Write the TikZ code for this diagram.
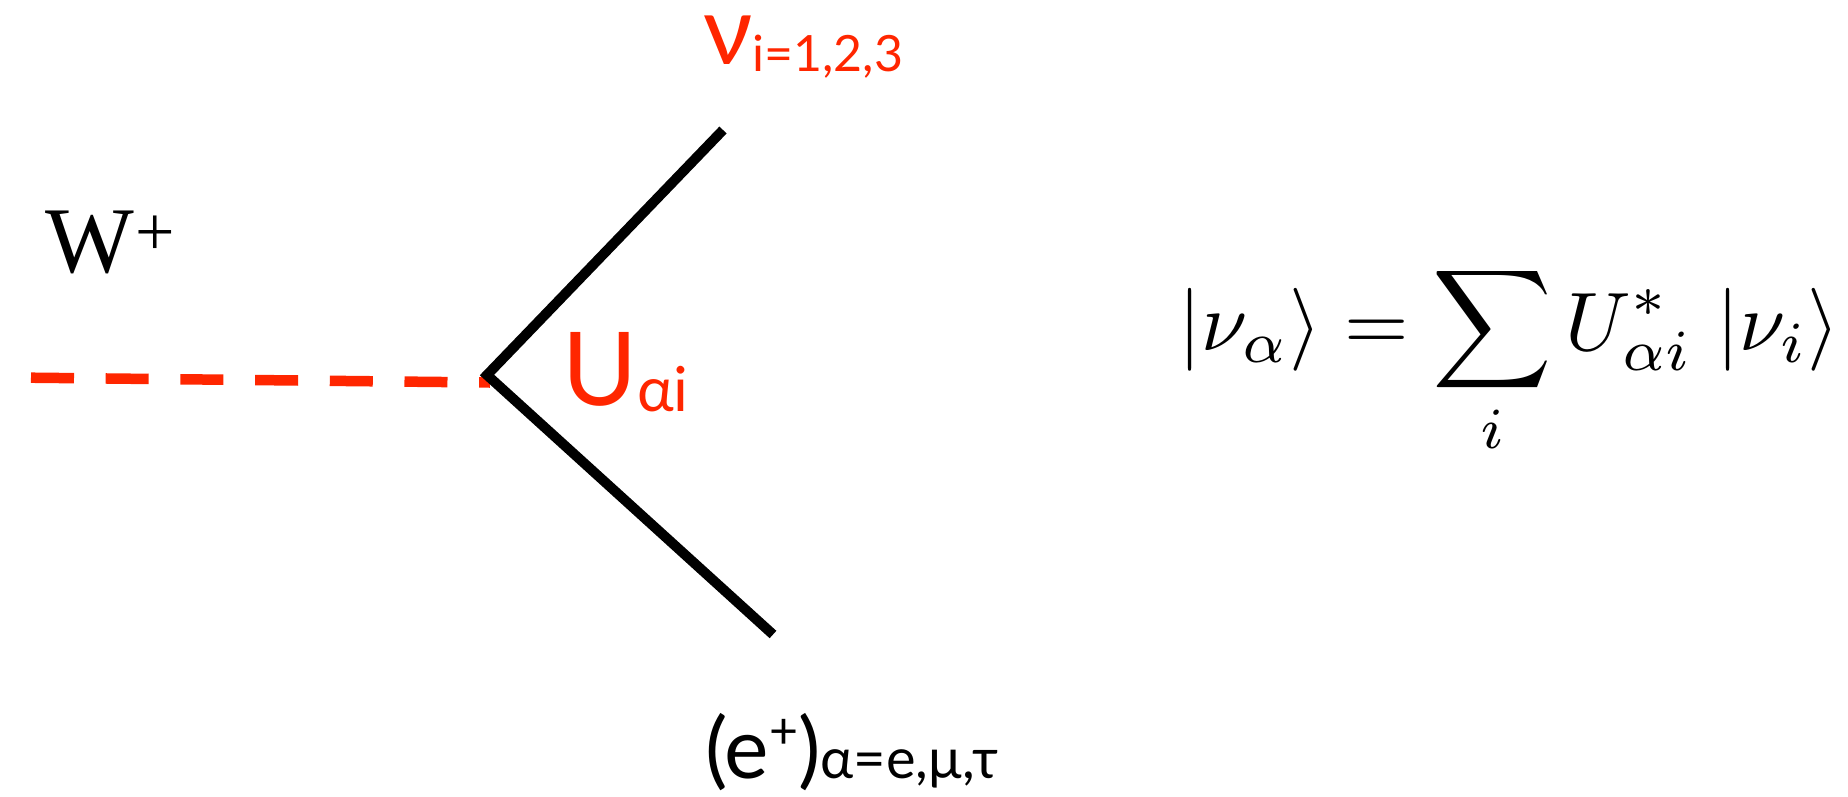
\documentclass[tikz,border=0pt]{standalone}
\usepackage{fontspec}
\usepackage{graphicx}
\newfontfamily\gill{Lato}
\newfontfamily\tnr{Liberation Serif}
\definecolor{kred}{RGB}{255,38,0}
\tikzset{
  lbl/.style={inner sep=0pt, outer sep=0pt, anchor=base west},
  fermion/.style={line width=10pt, black, line join=miter},
  boson/.style={line width=10.5pt, kred, dash pattern=on 43pt off 31.7pt}
}
\begin{document}
\begin{tikzpicture}[x=1pt,y=-1pt]
\path[use as bounding box] (0,0) rectangle (1848,796);
\coordinate (w) at (31,377.7);
\coordinate (v) at (487,375);
\coordinate (wv) at (490,382.5);
\coordinate (nu) at (723,130);
\coordinate (ep) at (773,634.5);
\draw[boson] (w) -- (wv);
\draw[fermion] (nu) -- (v) -- (ep);
\node[lbl] (W) at (45,272) {\tnr\fontsize{94}{94}\selectfont W\kern2pt\raisebox{17pt}{\fontsize{70}{70}\selectfont +}};
\node[lbl, text=kred] (nulbl) at (703,64) {\gill\fontsize{96}{96}\selectfont ν\raisebox{-7pt}{\fontsize{50}{50}\selectfont i=1,2,3}};
\node[lbl, text=kred] (U) at (562,405) {\gill\fontsize{102}{102}\selectfont U\raisebox{-6pt}{\fontsize{62}{62}\selectfont αi}};
\node[lbl] (elbl) at (705,778) {\gill\fontsize{84}{84}\selectfont (e\raisebox{30pt}{\fontsize{50}{50}\selectfont +})\fontsize{56}{56}\selectfont α=e,μ,τ};
\node[inner sep=0pt, outer sep=0pt, anchor=west] (eq) at (1178,360) {\resizebox{662pt}{!}{$\displaystyle |\nu_\alpha\rangle = \sum_i U^*_{\alpha i}\;|\nu_i\rangle$}};
\end{tikzpicture}
\end{document}
